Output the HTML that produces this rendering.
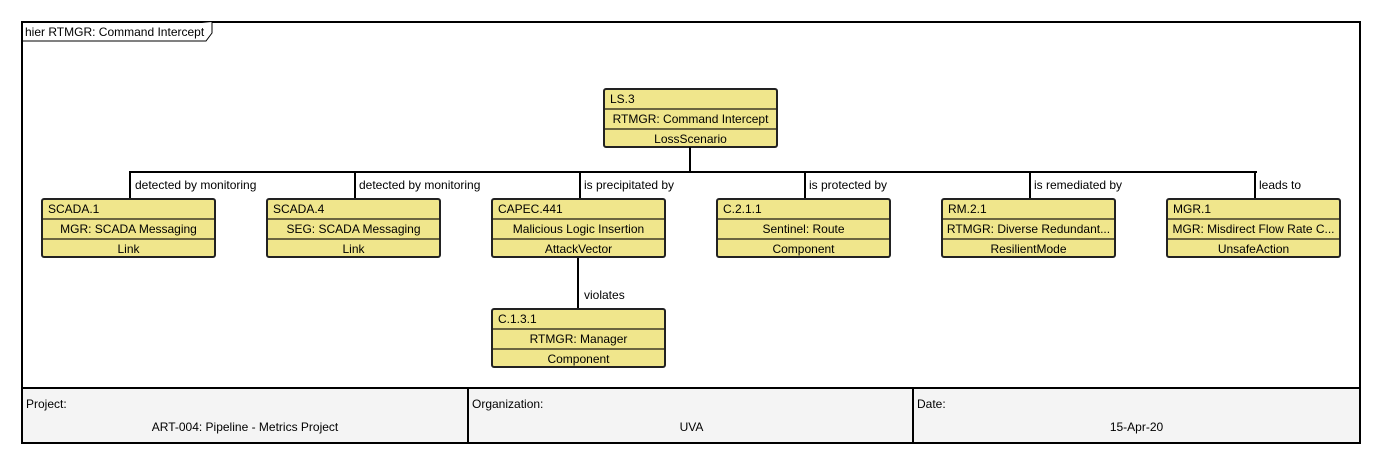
<!DOCTYPE html>
<html><head><style>
body{margin:0;width:1382px;height:465px;background:#fff;position:relative;font-family:"Liberation Sans",sans-serif;font-size:12px;color:#000;overflow:hidden}
.a{position:absolute}
.frame{left:21px;top:21px;width:1336px;height:419px;border:2px solid #000}
.box{position:absolute;width:171px;height:56px;border:2px solid #222;border-radius:3px;background:#f0e68c;box-sizing:content-box}
.box div{height:18px;line-height:18px;border-bottom:2px solid #6b6540;text-align:center;white-space:nowrap;overflow:hidden}
.box div:first-child{text-align:left;padding-left:5px}
.box div:last-child{border-bottom:none}
.v{position:absolute;width:2px;background:#000}
.lbl{position:absolute;white-space:nowrap}
.foot{position:absolute;top:387px;height:53px;background:#f4f4f4;border-top:2px solid #000}
.foot .t{position:absolute;left:3px;top:8px}
.foot .val{position:absolute;left:0;right:0;top:31px;text-align:center}
</style></head><body>
<div class="a frame"></div>
<svg class="a" style="left:22px;top:22px" width="196" height="22"><path d="M0 19 H184 L190 11 V0" fill="#fff" stroke="#000" stroke-width="1"/></svg>
<div class="lbl" style="left:25px;top:25px">hier RTMGR: Command Intercept</div>

<div class="box" style="left:603px;top:88px"><div>LS.3</div><div>RTMGR: Command Intercept</div><div>LossScenario</div></div>

<div class="v" style="left:689px;top:147px;height:25px"></div>
<div class="a" style="left:129px;top:171px;width:1128px;height:2px;background:#000"></div>
<div class="v" style="left:129px;top:171px;height:28px"></div>
<div class="v" style="left:354px;top:171px;height:28px"></div>
<div class="v" style="left:579px;top:171px;height:28px"></div>
<div class="v" style="left:804px;top:171px;height:28px"></div>
<div class="v" style="left:1029px;top:171px;height:28px"></div>
<div class="v" style="left:1254px;top:171px;height:28px"></div>
<div class="lbl" style="left:135px;top:178px">detected by monitoring</div>
<div class="lbl" style="left:359px;top:178px">detected by monitoring</div>
<div class="lbl" style="left:584px;top:178px">is precipitated by</div>
<div class="lbl" style="left:809px;top:178px">is protected by</div>
<div class="lbl" style="left:1034px;top:178px">is remediated by</div>
<div class="lbl" style="left:1259px;top:178px">leads to</div>

<div class="box" style="left:41px;top:198px"><div>SCADA.1</div><div>MGR: SCADA Messaging</div><div>Link</div></div>
<div class="box" style="left:266px;top:198px"><div>SCADA.4</div><div>SEG: SCADA Messaging</div><div>Link</div></div>
<div class="box" style="left:491px;top:198px"><div>CAPEC.441</div><div>Malicious Logic Insertion</div><div>AttackVector</div></div>
<div class="box" style="left:716px;top:198px"><div>C.2.1.1</div><div>Sentinel: Route</div><div>Component</div></div>
<div class="box" style="left:941px;top:198px"><div>RM.2.1</div><div>RTMGR: Diverse Redundant...</div><div>ResilientMode</div></div>
<div class="box" style="left:1166px;top:198px"><div>MGR.1</div><div>MGR: Misdirect Flow Rate C...</div><div>UnsafeAction</div></div>

<div class="v" style="left:577px;top:258px;height:51px"></div>
<div class="lbl" style="left:584px;top:288px">violates</div>
<div class="box" style="left:491px;top:308px"><div>C.1.3.1</div><div>RTMGR: Manager</div><div>Component</div></div>

<div class="foot" style="left:23px;width:444px"><span class="t">Project:</span><span class="val">ART-004: Pipeline - Metrics Project</span></div>
<div class="foot" style="left:467px;width:445px;border-left:2px solid #000"><span class="t">Organization:</span><span class="val">UVA</span></div>
<div class="foot" style="left:912px;width:445px;border-left:2px solid #000"><span class="t">Date:</span><span class="val">15-Apr-20</span></div>
</body></html>
